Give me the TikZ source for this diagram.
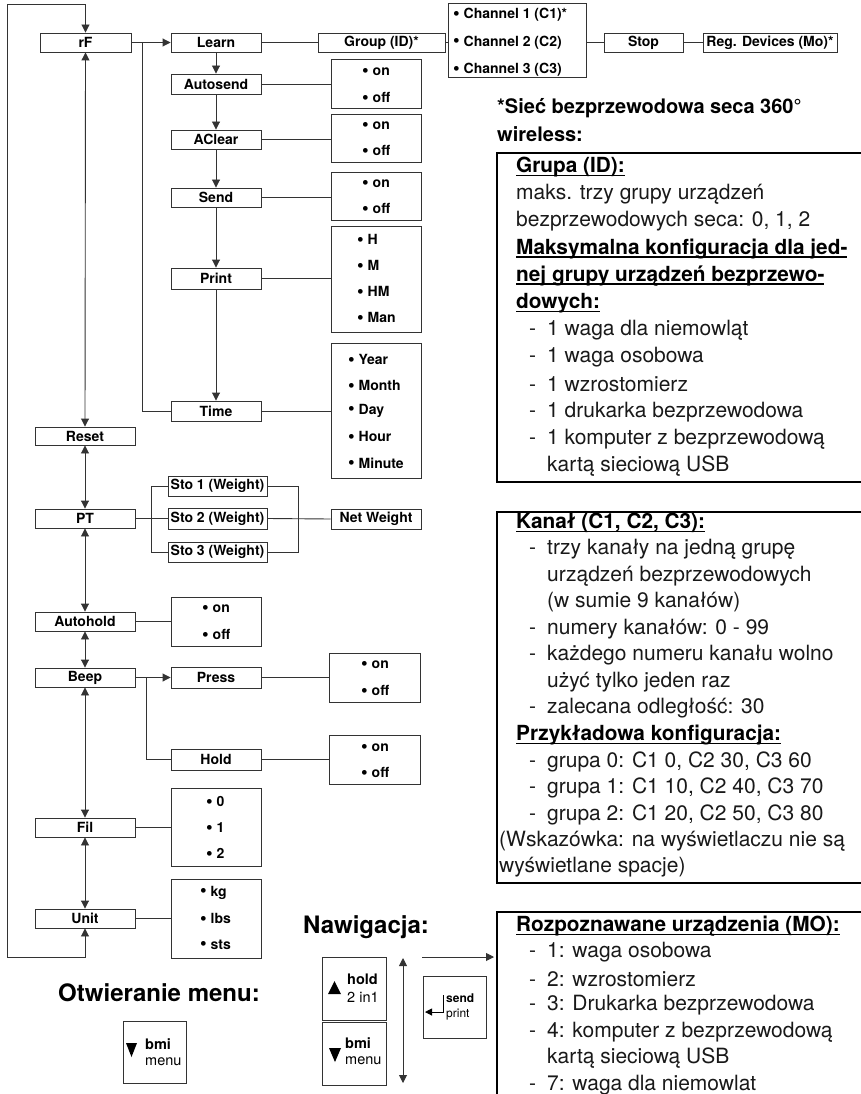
\documentclass[tikz,border=0pt]{standalone}
\usepackage{fontspec}
\setmainfont{TeX Gyre Heros}
\usetikzlibrary{arrows.meta}
\newcommand{\myul}[1]{\setbox0\hbox{#1}\rlap{\rule[-3.5pt]{\wd0}{1.3pt}}\box0}
\newcommand{\bul}{\raisebox{-0.3pt}{\scalebox{1.35}{•}}}
\newcommand{\mybox}[6]{\node[mbox, minimum width={#4-#2}, minimum height={#5-#3}] (#1) at ({(#2+#4)/2},{(#3+#5)/2}) {#6};}
\newcommand{\myopt}[6]{\node[mbox, minimum width={#4-#2}, minimum height={#5-#3}] (#1) at ({(#2+#4)/2},{(#3+#5)/2}) {};}
\begin{document}
\begin{tikzpicture}[x=1pt,y=-1pt,
  mbox/.style={draw=black!80, line width=0.9pt, inner sep=0pt, font=\fontsize{14}{16}\selectfont\bfseries},
  itm/.style={anchor=west, inner sep=0pt, font=\fontsize{14}{16}\selectfont\bfseries},
  conn/.style={draw=black!80, line width=0.9pt},
  tip/.tip={Triangle[length=8pt,width=8pt]},
  frame/.style={draw=black, line width=2pt},
  txt/.style={anchor=west, inner sep=0pt, text=black!90, font=\fontsize{21}{24}\selectfont},
  txb/.style={anchor=west, inner sep=0pt, text=black, font=\fontsize{20.8}{24}\selectfont\bfseries},
  head/.style={anchor=west, inner sep=0pt, font=\fontsize{20}{24}\selectfont\bfseries},
  bighead/.style={inner sep=0pt, font=\fontsize{24}{28}\selectfont\bfseries},
  key/.style={draw=black!80, line width=0.9pt, inner sep=0pt},
  keyb/.style={anchor=west, inner sep=0pt, font=\fontsize{14.5}{16}\selectfont\bfseries},
  keyr/.style={anchor=west, inner sep=0pt, font=\fontsize{14.5}{16}\selectfont},
  keysb/.style={anchor=west, inner sep=0pt, font=\fontsize{12}{13}\selectfont\bfseries},
  keysr/.style={anchor=west, inner sep=0pt, font=\fontsize{12}{13}\selectfont}
]
\useasboundingbox (0,0) rectangle (861,1094);

% main column
\mybox{rF}{40}{33}{131}{52}{rF}
\mybox{Reset}{35}{427}{135}{445}{Reset}
\mybox{PT}{35}{509}{135}{528}{PT}
\mybox{Autohold}{35}{612}{135}{631}{Autohold}
\mybox{Beep}{35}{668}{135}{687}{Beep}
\mybox{Fil}{35}{818}{135}{837}{Fil}
\mybox{Unit}{35}{909}{135}{928}{Unit}

% rF branch
\mybox{Learn}{171}{33}{261}{52}{Learn}
\mybox{Group}{318}{33}{445}{52}{Group (ID)*}
\myopt{Chan}{448}{3}{586}{77}{}
\node[itm] (ch1) at (453,15) {\bul{} Channel 1 (C1)*};
\node[itm] (ch2) at (453,42.5) {\bul{} Channel 2 (C2)};
\node[itm] (ch3) at (453,70) {\bul{} Channel 3 (C3)};
\mybox{Stop}{604}{33}{683}{52}{Stop}
\mybox{Reg}{703}{33}{837}{52}{Reg. Devices (Mo)*}

\mybox{Autosend}{171}{74}{261}{94}{Autosend}
\myopt{oA}{331}{59}{421}{108}{}
\node[itm] (oA1) at (362,72) {\bul{} on};
\node[itm] (oA2) at (362,98) {\bul{} off};
\mybox{AClear}{171}{130}{261}{149}{AClear}
\myopt{oB}{331}{114}{421}{162}{}
\node[itm] (oB1) at (362,126) {\bul{} on};
\node[itm] (oB2) at (362,151) {\bul{} off};
\mybox{Send}{171}{188}{261}{207}{Send}
\myopt{oC}{331}{172}{421}{220}{}
\node[itm] (oC1) at (362,184) {\bul{} on};
\node[itm] (oC2) at (362,209) {\bul{} off};
\mybox{Print}{171}{268}{261}{289}{Print}
\myopt{oD}{331}{226}{421}{332}{}
\node[itm] (oD1) at (357,240) {\bul{} H};
\node[itm] (oD2) at (357,266) {\bul{} M};
\node[itm] (oD3) at (357,292) {\bul{} HM};
\node[itm] (oD4) at (357,318) {\bul{} Man};
\mybox{Time}{171}{401}{261}{421}{Time}
\myopt{oE}{331}{343}{421}{478}{}
\node[itm] (oE1) at (348,360) {\bul{} Year};
\node[itm] (oE2) at (348,386) {\bul{} Month};
\node[itm] (oE3) at (348,411) {\bul{} Day};
\node[itm] (oE4) at (348,437) {\bul{} Hour};
\node[itm] (oE5) at (348,463) {\bul{} Minute};

% PT branch
\mybox{Sto1}{168}{476}{267}{496}{Sto 1 (Weight)}
\mybox{Sto2}{168}{508}{267}{529}{Sto 2 (Weight)}
\mybox{Sto3}{168}{542}{267}{562}{Sto 3 (Weight)}
\mybox{Net}{331}{509}{421}{529}{Net Weight}

% Autohold
\myopt{oF}{171}{597}{261}{646}{}
\node[itm] (oF1) at (202,609) {\bul{} on};
\node[itm] (oF2) at (202,635) {\bul{} off};
% Beep
\mybox{Press}{171}{667}{261}{688}{Press}
\myopt{oG}{329}{653}{420}{702}{}
\node[itm] (oG1) at (361,665) {\bul{} on};
\node[itm] (oG2) at (361,691) {\bul{} off};
\mybox{Hold}{171}{749}{261}{770}{Hold}
\myopt{oH}{329}{735}{420}{784}{}
\node[itm] (oH1) at (361,748) {\bul{} on};
\node[itm] (oH2) at (361,773) {\bul{} off};
% Fil
\myopt{oI}{171}{788}{261}{866}{}
\node[itm] (oI1) at (206,802) {\bul{} 0};
\node[itm] (oI2) at (206,828) {\bul{} 1};
\node[itm] (oI3) at (206,854) {\bul{} 2};
% Unit
\myopt{oJ}{171}{879}{261}{958}{}
\node[itm] (oJ1) at (200,893) {\bul{} kg};
\node[itm] (oJ2) at (200,919) {\bul{} lbs};
\node[itm] (oJ3) at (200,945) {\bul{} sts};

% connectors main column
\coordinate (L1) at (7,957);
\coordinate (L2) at (7,4);
\draw[conn,tip-tip] (Unit.south) -- (Unit.south |- L1) -- (L1) -- (L2) -- (L2 -| rF.north) -- (rF.north);
\draw[conn,tip-tip] (rF.south) -- (Reset.north);
\draw[conn,tip-tip] (Reset.south) -- (PT.north);
\draw[conn,tip-tip] (PT.south) -- (Autohold.north);
\draw[conn,tip-tip] (Autohold.south) -- (Beep.north);
\draw[conn,tip-tip] (Beep.south) -- (Fil.north);
\draw[conn,tip-tip] (Fil.south) -- (Unit.north);

% rF branch connectors
\draw[conn,-tip] (rF.east) -- (Learn.west);
\coordinate (J1) at (142,42.5);
\draw[conn] (J1) |- (Time.west);
\draw[conn] (Learn.east) -- (Group.west);
\draw[conn] (Group.east) -- (Chan.west |- Group.east);
\draw[conn] (Chan.east |- Stop.west) -- (Stop.west);
\draw[conn] (Stop.east) -- (Reg.west);
\draw[conn,-tip] (Learn.south) -- (Autosend.north);
\draw[conn,-tip] (Autosend.south) -- (AClear.north);
\draw[conn,-tip] (AClear.south) -- (Send.north);
\draw[conn,-tip] (Send.south) -- (Print.north);
\draw[conn,-tip] (Print.south) -- (Time.north);
\draw[conn] (Autosend.east) -- (oA.west |- Autosend.east);
\draw[conn] (AClear.east) -- (oB.west |- AClear.east);
\draw[conn] (Send.east) -- (oC.west |- Send.east);
\draw[conn] (Print.east) -- (oD.west |- Print.east);
\draw[conn] (Time.east) -- (oE.west |- Time.east);

% PT connectors
\draw[conn] (PT.east) -- (Sto2.west);
\draw[conn] (Sto1.west) -- ++(-16,0) |- (Sto3.west);
\draw[conn] (Sto1.east) -- ++(31,0) |- (Sto3.east);
\draw[conn] (Sto2.east) -- (Net.west);

% other connectors
\draw[conn] (Autohold.east) -- (oF.west |- Autohold.east);
\draw[conn,-tip] (Beep.east) -- (Press.west);
\coordinate (J2) at (146,677.5);
\draw[conn] (J2) |- (Hold.west);
\draw[conn] (Press.east) -- (oG.west |- Press.east);
\draw[conn] (Hold.east) -- (oH.west |- Hold.east);
\draw[conn] (Fil.east) -- (oI.west |- Fil.east);
\draw[conn] (Unit.east) -- (oJ.west |- Unit.east);

% navigation
\node[bighead] (hOpen) at (159,993) {Otwieranie menu:};
\node[key, minimum width=63, minimum height=62] (k0) at (154.5,1052) {};
\fill[black] (126,1043) -- (137,1043) -- (131.5,1057) -- cycle;
\node[keyb] (k0a) at (145,1044) {bmi};
\node[keyr] (k0b) at (145,1062) {menu};

\node[bighead, anchor=west] (hNav) at (303,927) {Nawigacja:};
\node[key, minimum width=64, minimum height=63] (k1) at (354,988.5) {};
\fill[black] (328,994) -- (341,994) -- (334.5,981) -- cycle;
\node[keyb] (k1a) at (347,979) {hold};
\node[keyr] (k1b) at (347,997) {2 in1};
\node[key, minimum width=64, minimum height=63] (k2) at (354,1053.5) {};
\fill[black] (329,1048) -- (341,1048) -- (335,1062) -- cycle;
\node[keyb] (k2a) at (345,1043) {bmi};
\node[keyr] (k2b) at (345,1061) {menu};
\coordinate (na1) at (403,958);
\coordinate (na2) at (403,1083);
\draw[conn,tip-tip] (na1) -- (na2);
\coordinate (ra1) at (422,957);
\coordinate (ra2) at (494,957);
\draw[conn,-tip] (ra1) -- (ra2);
\node[key, minimum width=63, minimum height=62] (k3) at (454.5,1007) {};
\draw[line width=1pt,-{Triangle[length=7pt,width=7pt]}] (443,995) |- (425,1012);
\node[keysb] (k3a) at (446,998) {send};
\node[keysr] (k3b) at (446,1015) {print};

% right text
\node[head] (h1) at (497,108) {*Sieć bezprzewodowa seca 360°};
\node[head] (h2) at (497,134) {wireless:};

\draw[frame] (862,153) -- (497,153) -- (497,482) -- (862,482);
\node[txb] (a1) at (516,167) {\myul{Grupa (ID):}};
\node[txt] (a2) at (516,194.2) {maks. trzy grupy urządzeń};
\node[txt] (a3) at (516,221.4) {bezprzewodowych seca: 0, 1, 2};
\node[txb] (a4) at (516,248.6) {\myul{Maksymalna konfiguracja dla jed-}};
\node[txb] (a5) at (516,275.8) {\myul{nej grupy urządzeń bezprzewo-}};
\node[txb] (a6) at (516,303) {\myul{dowych:}};
\node[txt] (a7) at (529,330.2) {\makebox[18pt][l]{-}1 waga dla niemowląt};
\node[txt] (a8) at (529,357.4) {\makebox[18pt][l]{-}1 waga osobowa};
\node[txt] (a9) at (529,384.6) {\makebox[18pt][l]{-}1 wzrostomierz};
\node[txt] (a10) at (529,411.8) {\makebox[18pt][l]{-}1 drukarka bezprzewodowa};
\node[txt] (a11) at (529,439) {\makebox[18pt][l]{-}1 komputer z bezprzewodową};
\node[txt] (a12) at (547,466.2) {kartą sieciową USB};

\draw[frame] (862,512) -- (497,512) -- (497,883) -- (862,883);
\node[txb] (b1) at (516,523) {\myul{Kanał (C1, C2, C3):}};
\node[txt] (b2) at (529,549.5) {\makebox[18pt][l]{-}trzy kanały na jedną grupę};
\node[txt] (b3) at (547,576) {urządzeń bezprzewodowych};
\node[txt] (b4) at (547,602.5) {(w sumie 9 kanałów)};
\node[txt] (b5) at (529,629) {\makebox[18pt][l]{-}numery kanałów: 0 - 99};
\node[txt] (b6) at (529,655.5) {\makebox[18pt][l]{-}każdego numeru kanału wolno};
\node[txt] (b7) at (547,682) {użyć tylko jeden raz};
\node[txt] (b8) at (529,708.5) {\makebox[18pt][l]{-}zalecana odległość: 30};
\node[txb] (b9) at (516,735) {\myul{Przykładowa konfiguracja:}};
\node[txt] (b10) at (529,761.5) {\makebox[18pt][l]{-}grupa 0: C1 0, C2 30, C3 60};
\node[txt] (b11) at (529,788) {\makebox[18pt][l]{-}grupa 1: C1 10, C2 40, C3 70};
\node[txt] (b12) at (529,814.5) {\makebox[18pt][l]{-}grupa 2: C1 20, C2 50, C3 80};
\node[txt] (b13) at (499,841) {(Wskazówka: na wyświetlaczu nie są};
\node[txt] (b14) at (499,867.5) {wyświetlane spacje)};

\draw[frame] (862,912) -- (497,912) -- (497,1095);
\node[txb] (c1) at (516,926) {\myul{Rozpoznawane urządzenia (MO):}};
\node[txt] (c2) at (529,952.5) {\makebox[18pt][l]{-}1: waga osobowa};
\node[txt] (c3) at (529,979) {\makebox[18pt][l]{-}2: wzrostomierz};
\node[txt] (c4) at (529,1005.5) {\makebox[18pt][l]{-}3: Drukarka bezprzewodowa};
\node[txt] (c5) at (529,1032) {\makebox[18pt][l]{-}4: komputer z bezprzewodową};
\node[txt] (c6) at (547,1058.5) {kartą sieciową USB};
\node[txt] (c7) at (529,1085) {\makebox[18pt][l]{-}7: waga dla niemowlat};
\end{tikzpicture}
\end{document}
